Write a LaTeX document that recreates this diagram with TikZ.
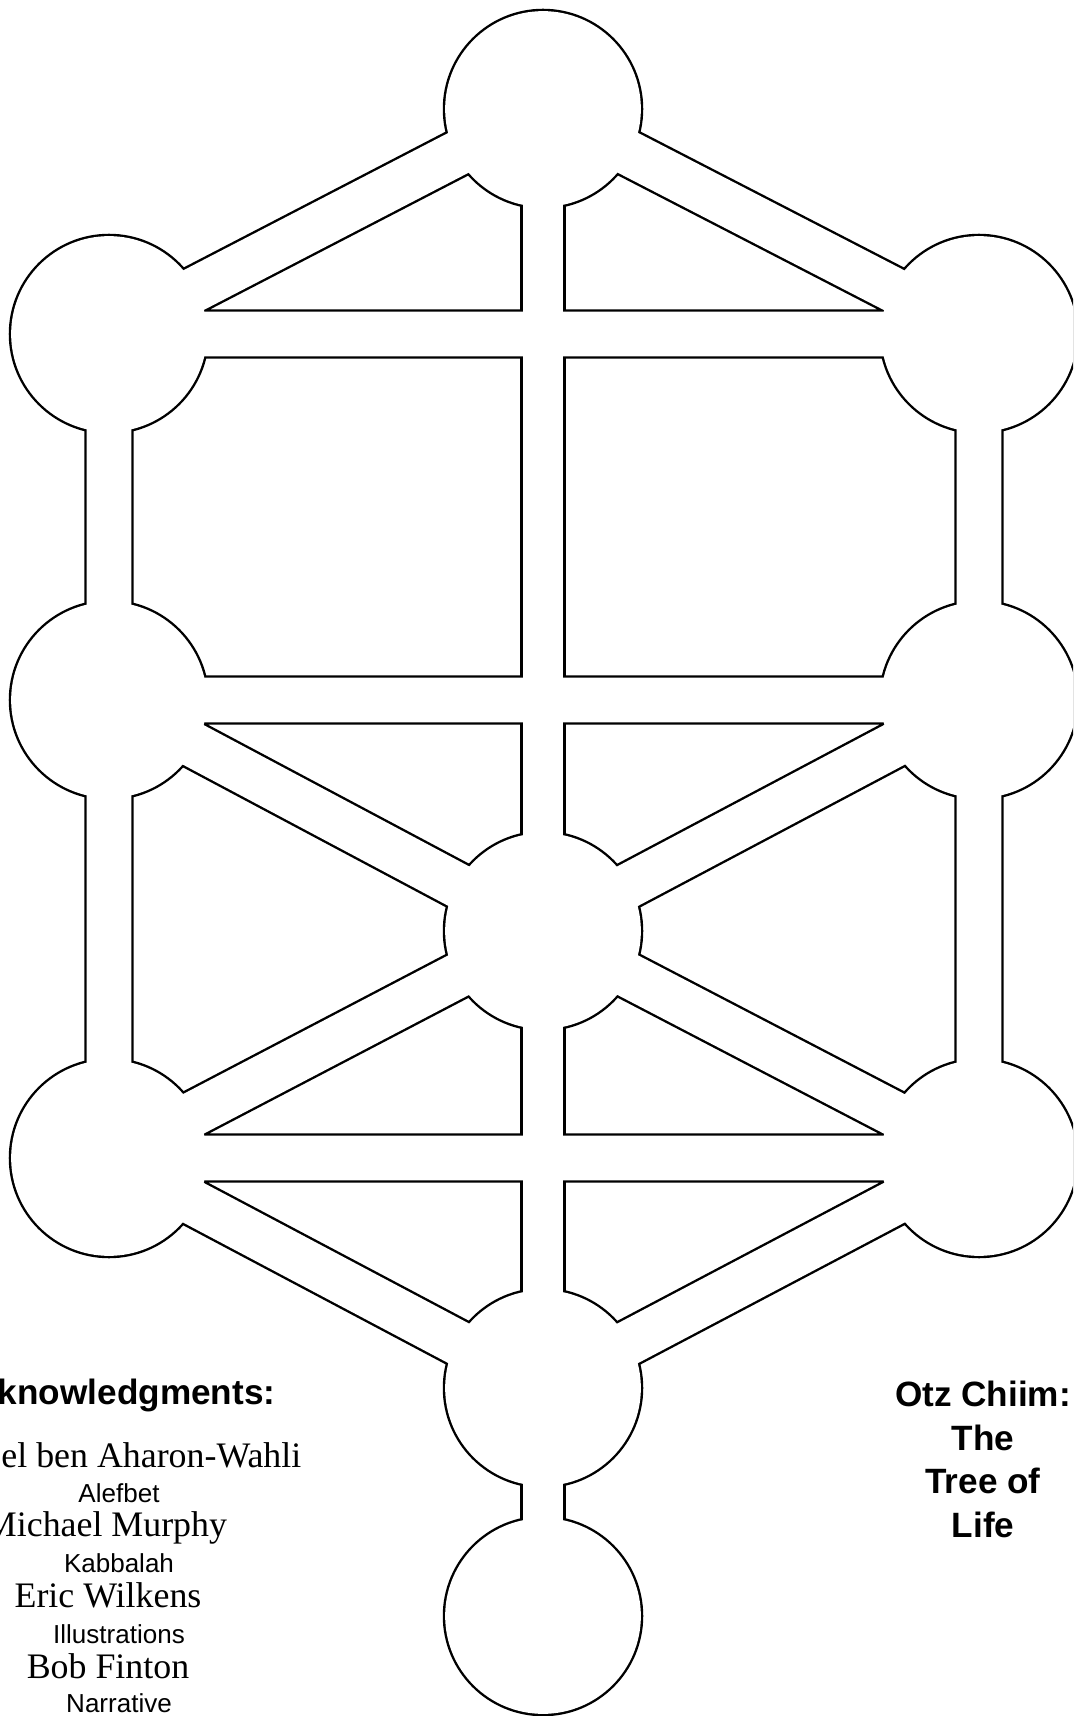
\documentclass[tikz,border=0pt]{standalone}
\usepackage{fontspec}
\setmainfont{Liberation Serif}
\newfontfamily\arialfont{Liberation Sans}
\usepackage{tikz}

\begin{document}
\begin{tikzpicture}[
    x=0.01cm, y=-0.01cm,
    sephira/.style={circle, fill=black, inner sep=0pt, minimum size=2.004cm},
    rim/.style={line width=0.494cm, line join=round, line cap=round},
    trunkrim/.style={line width=0.454cm, line cap=round},
    channel/.style={white, line width=0.446cm, line join=round, line cap=round},
    trunk/.style={white, line width=0.406cm, line cap=round},
    heading/.style={inner sep=0pt, font=\arialfont\bfseries\fontsize{10}{12}\selectfont},
    role/.style={inner sep=0pt, font=\arialfont\fontsize{7.4}{9}\selectfont},
    person/.style={inner sep=0pt, font=\fontsize{10.2}{12}\selectfont}
]
\useasboundingbox (0,0) rectangle (1073,1716);
\clip (0,0) rectangle (1073,1716);

% the ten sephirot (outer rims)
\node[sephira] (keter) at (543,109) {};
\node[sephira] (binah) at (109,334) {};
\node[sephira] (chokmah) at (979,334) {};
\node[sephira] (gevurah) at (109,700) {};
\node[sephira] (chesed) at (979,700) {};
\node[sephira] (tiferet) at (543,931) {};
\node[sephira] (hod) at (109,1158) {};
\node[sephira] (netzach) at (979,1158) {};
\node[sephira] (yesod) at (543,1388) {};
\node[sephira] (malkhut) at (543,1616) {};

% paths, outline first
\draw[rim] (binah.center) -- (keter.center) -- (chokmah.center) -- (binah.center) -- (hod.center)
    -- (yesod.center) -- (netzach.center) -- (chokmah.center)
    (gevurah.center) -- (chesed.center) -- (tiferet.center) -- (gevurah.center)
    (hod.center) -- (tiferet.center) -- (netzach.center) -- (hod.center);
\draw[trunkrim] (keter.center) -- (malkhut.center);

% then hollow them out
\draw[channel] (binah.center) -- (keter.center) -- (chokmah.center) -- (binah.center) -- (hod.center)
    -- (yesod.center) -- (netzach.center) -- (chokmah.center)
    (gevurah.center) -- (chesed.center) -- (tiferet.center) -- (gevurah.center)
    (hod.center) -- (tiferet.center) -- (netzach.center) -- (hod.center);
\draw[trunk] (keter.center) -- (malkhut.center);
\fill[white] (keter.center) circle[radius=0.978cm] (binah.center) circle[radius=0.978cm]
    (chokmah.center) circle[radius=0.978cm] (gevurah.center) circle[radius=0.978cm]
    (chesed.center) circle[radius=0.978cm] (tiferet.center) circle[radius=0.978cm]
    (hod.center) circle[radius=0.978cm] (netzach.center) circle[radius=0.978cm]
    (yesod.center) circle[radius=0.978cm] (malkhut.center) circle[radius=0.978cm];

% credits
\node[heading, anchor=base east] (ack) at (276,1404) {Acknowledgments:};
\node[person, anchor=base east] (wahli) at (302,1467) {el ben Aharon-Wahli};
\node[role, anchor=base] (alefbet) at (119,1502) {Alefbet};
\node[person, anchor=base] (murphy) at (106,1536) {Michael Murphy};
\node[role, anchor=base] (kabbalah) at (119,1572) {Kabbalah};
\node[person, anchor=base] (wilkens) at (108,1607) {Eric Wilkens};
\node[role, anchor=base] (illus) at (119,1643) {Illustrations};
\node[person, anchor=base] (finton) at (108,1678) {Bob Finton};
\node[role, anchor=base] (narrative) at (119,1712) {Narrative};

% title
\node[heading, anchor=base] (otz) at (983,1406) {Otz Chiim:};
\node[heading, anchor=base] (the) at (983,1450) {The};
\node[heading, anchor=base] (tree) at (983,1493) {Tree of};
\node[heading, anchor=base] (life) at (983,1537) {Life};
\end{tikzpicture}
\end{document}
